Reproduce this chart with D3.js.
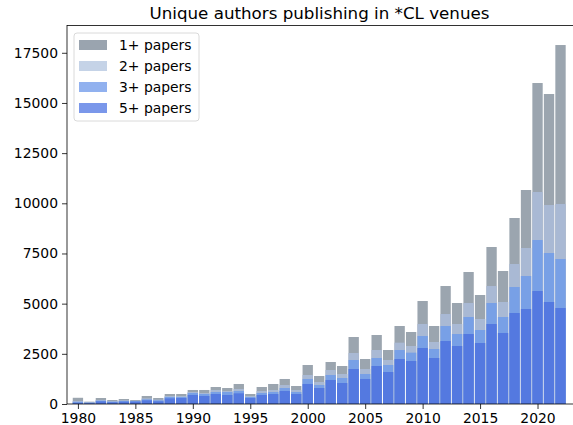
<!DOCTYPE html>
<html>
<head>
<meta charset="utf-8">
<script src="https://cdn.jsdelivr.net/npm/d3@7"></script>
<style>
  body { margin: 0; background: #fff; }
  text { font-family: "DejaVu Sans", sans-serif; fill: #000; }
</style>
</head>
<body>
<div id="my_dataviz"></div>
<script>
// years 1980..2022
var years = d3.range(1980, 2023);

// unique authors with at least N papers
var onePlus = [310, 116, 299, 199, 249, 199, 399, 299, 498, 498,
  698, 698, 847, 797, 997, 498, 847, 997, 1246, 897,
  1943, 1395, 2093, 1893, 3338, 2242, 3438, 2691, 3886, 3587,
  5132, 3886, 5879, 5032, 6577, 5431, 7823, 6627, 9268, 10663,
  15994, 15446, 17887];
var twoPlus = [150, 90, 199, 150, 183, 166, 282, 216, 399, 399,
  598, 548, 698, 648, 748, 399, 648, 698, 947, 698,
  1445, 1096, 1694, 1495, 2541, 1744, 2691, 2192, 3055, 2890,
  3986, 3089, 4484, 3986, 5032, 4235, 5879, 5082, 6976, 7773,
  10563, 9915, 9965];
var threePlus = [110, 70, 166, 116, 150, 150, 232, 183, 349, 349,
  548, 498, 598, 598, 648, 349, 548, 598, 797, 598,
  1246, 947, 1445, 1295, 2192, 1495, 2292, 1943, 2690, 2558,
  3388, 2740, 3886, 3488, 4335, 3687, 5032, 4335, 5830, 6378,
  8171, 7524, 7225];
var fivePlus = [60, 40, 133, 83, 116, 116, 183, 133, 282, 299,
  448, 399, 498, 448, 531, 299, 448, 498, 648, 498,
  997, 797, 1196, 1046, 1744, 1246, 1893, 1594, 2242, 2142,
  2790, 2292, 3139, 2890, 3488, 3039, 3986, 3538, 4534, 4733,
  5630, 5082, 4783];

var seriesNames = ["1+ papers", "2+ papers", "3+ papers", "5+ papers"];
var barColors = ["#9ba5af", "#a9b9d4", "#78a0e6", "#5479e0"];
var legendColors = ["#9aa4af", "#c5d3e7", "#91b1ef", "#7a97ea"];
var yTicks = [0, 2500, 5000, 7500, 10000, 12500, 15000, 17500];
var xTicks = [1980, 1985, 1990, 1995, 2000, 2005, 2010, 2015, 2020];

var W = 573, H = 425;
var margin = {left: 67, right: 572, top: 25.5, bottom: 404};

var svg = d3.select("#my_dataviz")
  .append("svg")
    .attr("width", W)
    .attr("height", H);

var xScale = d3.scaleLinear()
  .domain([1979.05, 2023.0])
  .range([margin.left, margin.right]);
var yScale = d3.scaleLinear()
  .domain([0, 18860])
  .range([margin.bottom, margin.top]);

var bw = (xScale(1) - xScale(0)) * 0.9;

// draw series from largest to smallest, all from zero
var allSeries = [onePlus, twoPlus, threePlus, fivePlus];
allSeries.forEach(function(vals, i) {
  svg.append("g")
    .selectAll("rect")
    .data(vals)
    .enter()
    .append("rect")
      .attr("x", function(d, j) { return xScale(years[j]) - bw / 2; })
      .attr("width", bw)
      .attr("y", function(d) { return yScale(d); })
      .attr("height", function(d) { return yScale(0) - yScale(d); })
      .attr("fill", barColors[i]);
});

// axes
var xAxis = d3.axisBottom(xScale)
  .tickValues(xTicks)
  .tickFormat(d3.format("d"))
  .tickSize(5)
  .tickPadding(4);
svg.append("g")
  .attr("transform", "translate(0," + margin.bottom + ")")
  .call(xAxis)
  .call(function(g) { g.select(".domain").remove(); })
  .selectAll("text")
    .style("font-size", "13.9px");

var yAxis = d3.axisLeft(yScale)
  .tickValues(yTicks)
  .tickFormat(d3.format("d"))
  .tickSize(5)
  .tickPadding(4);
svg.append("g")
  .attr("transform", "translate(" + margin.left + ",0)")
  .call(yAxis)
  .call(function(g) { g.select(".domain").remove(); })
  .selectAll("text")
    .style("font-size", "13.9px");

svg.selectAll(".tick line").attr("stroke", "#000").attr("stroke-width", 0.8);

// frame (right spine falls just outside the picture, like the cropped original)
svg.append("rect")
  .attr("x", margin.left)
  .attr("y", margin.top)
  .attr("width", W + 2 - margin.left)
  .attr("height", margin.bottom - margin.top)
  .attr("fill", "none")
  .attr("stroke", "#000")
  .attr("stroke-width", 0.8);

// title
svg.append("text")
  .attr("x", (margin.left + margin.right) / 2)
  .attr("y", margin.top - 7)
  .attr("text-anchor", "middle")
  .style("font-size", "16.7px")
  .text("Unique authors publishing in *CL venues");

// legend
var lg = svg.append("g").attr("transform", "translate(74,33)");
lg.append("rect")
  .attr("width", 125)
  .attr("height", 88)
  .attr("rx", 3)
  .attr("fill", "#fff")
  .attr("fill-opacity", 0.8)
  .attr("stroke", "#d0d0d0")
  .attr("stroke-width", 0.8);
seriesNames.forEach(function(name, i) {
  lg.append("rect")
    .attr("x", 5)
    .attr("y", 7 + i * 21)
    .attr("width", 28)
    .attr("height", 10)
    .attr("fill", legendColors[i]);
  lg.append("text")
    .attr("x", 45)
    .attr("y", 17 + i * 21)
    .style("font-size", "13.9px")
    .text(name);
});
</script>
</body>
</html>
